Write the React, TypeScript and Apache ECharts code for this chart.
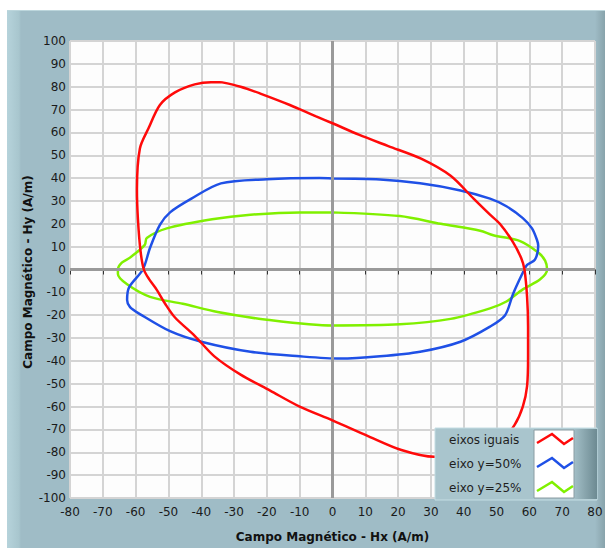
import React, { useEffect, useRef } from "react";
import * as echarts from "echarts";

const seriesNames = ["eixos iguais", "eixo y=50%", "eixo y=25%"];
const seriesColors = ["#ff0a0a", "#1f50e6", "#80f000"];

const xTicks = { min: -80, max: 80, interval: 10 };
const yTicks = { min: -100, max: 100, interval: 10 };

const eixosIguais: number[][] = [
  [-34, 82], [-28, 80], [-22, 77], [-13, 72], [-5, 67], [0, 64], [8, 59], [17, 54],
  [27, 48.5], [36, 41], [43, 31], [48, 24], [51, 20], [55, 12], [57.5, 5], [58.5, 0],
  [59.3, -12], [59.6, -25], [59.6, -38], [59.3, -51], [58, -60], [55.5, -68], [51, -76],
  [44, -80], [38, -82], [31, -82], [21, -79], [11, -73], [0, -66], [-10, -60], [-19, -53],
  [-28, -46], [-36, -38], [-42, -29], [-48, -21], [-51, -15], [-53.5, -9], [-56, -4],
  [-57.5, 0], [-58.5, 8], [-59.3, 22], [-59.6, 35], [-58.7, 53], [-56, 62], [-52.6, 72],
  [-48, 77.5], [-42, 81], [-37, 82], [-34, 82],
];

const eixoY50: number[][] = [
  [0, 39.8], [14.5, 39.4], [26.7, 37.7], [39, 34.6], [48, 31], [53, 27.7], [58, 22.5],
  [60.8, 18], [62.3, 13], [62.7, 10.4], [61.7, 4.3], [59.3, 2], [57.8, -2], [55, -10.8],
  [52.6, -20], [48, -25], [39, -31.6], [26.7, -36], [14.5, -38], [2.3, -39], [-10, -38],
  [-25, -36], [-40, -31.6], [-49.5, -27], [-58.7, -19.5], [-61.7, -16.5], [-62.6, -13.4],
  [-62, -7.8], [-57.8, 0], [-55.6, 9.5], [-52.6, 19.5], [-49.5, 25], [-43, 31],
  [-34, 37.7], [-20, 39.5], [-4, 40], [0, 39.8],
];

const eixoY25: number[][] = [
  [0, 25], [20.5, 23.4], [33, 20], [45, 17], [49, 15], [57, 12.5], [62.7, 7.4], [64.8, 3.9],
  [65.4, 0], [63.3, -4.3], [58, -8.7], [53, -14], [48, -17], [36, -21.6], [20.5, -24],
  [0, -24.5], [-20, -22], [-35, -18.6], [-45.6, -15], [-55.6, -12], [-62.6, -6.5],
  [-65.4, -2], [-65.4, 0], [-64.2, 3], [-61.7, 5.2], [-57.2, 10.8], [-56.6, 13.8],
  [-50.5, 18], [-36.7, 22], [-25, 24], [-10, 25], [0, 25],
];

const allSeries = [eixosIguais, eixoY50, eixoY25];

const xName = "Campo Magnético - Hx (A/m)";
const yName = "Campo Magnético - Hy (A/m)";

export default function App() {
  const ref = useRef<HTMLDivElement>(null);
  useEffect(() => {
    if (!ref.current) return;
    const chart = echarts.init(ref.current, null, { renderer: "svg" });
    const font = "DejaVu Sans";
    const legendX = 435, legendY = 428, rowH = 24;
    const legendEls: any[] = [
      {
        type: "text",
        x: 28,
        y: 272,
        rotation: Math.PI / 2,
        style: {
          text: yName,
          font: `bold 12px "${font}"`,
          fill: "#111",
          align: "center",
          verticalAlign: "middle",
        },
        z: 50,
      },
      {
        type: "rect",
        shape: { x: legendX, y: legendY, width: 162, height: 72 },
        style: { fill: "#a9c5cd", stroke: "#c4dde3", lineWidth: 1 },
        z: 100,
      },
      {
        type: "rect",
        shape: { x: 574, y: legendY + 1, width: 23, height: 70 },
        style: {
          fill: new echarts.graphic.LinearGradient(0, 0, 1, 0, [
            { offset: 0, color: "#a3bfc7" },
            { offset: 1, color: "#6d8a92" },
          ]),
        },
        z: 101,
      },
      {
        type: "rect",
        shape: { x: 534, y: 430, width: 40, height: 68 },
        style: { fill: "#ffffff", stroke: "#8a9ca2", lineWidth: 1 },
        z: 101,
      },
    ];
    seriesNames.forEach((n, i) => {
      const by = 434 + i * rowH;
      legendEls.push({
        type: "text",
        x: 449,
        y: by + 6,
        style: {
          text: n,
          font: `12px "${font}"`,
          fill: "#1e1e1e",
          verticalAlign: "middle",
        },
        z: 102,
      });
      legendEls.push({
        type: "polyline",
        shape: {
          points: [
            [537, by + 9],
            [552, by],
            [564, by + 10],
            [573, by + 4],
          ],
        },
        style: { stroke: seriesColors[i], lineWidth: 2.5, fill: "none" },
        z: 102,
      });
    });

    chart.setOption({
      animation: false,
      backgroundColor: "transparent",
      grid: {
        left: 70,
        right: 17,
        top: 41,
        bottom: 44,
        show: true,
        backgroundColor: "#fdfdfd",
        borderColor: "#8a8a8a",
        borderWidth: 1,
      },
      xAxis: {
        type: "value",
        min: xTicks.min,
        max: xTicks.max,
        interval: xTicks.interval,
        name: xName,
        nameLocation: "middle",
        nameGap: 33,
        nameTextStyle: { fontFamily: font, fontWeight: "bold", fontSize: 12, color: "#111" },
        axisLine: { show: false },
        axisTick: { show: true, length: 5, lineStyle: { color: "#333", width: 1 } },
        axisLabel: { fontFamily: font, fontSize: 12, color: "#1a1a1a", margin: 8 },
        splitLine: { show: true, lineStyle: { color: "#d4d4d4", width: 2 } },
      },
      yAxis: {
        type: "value",
        min: yTicks.min,
        max: yTicks.max,
        interval: yTicks.interval,
        axisLine: { show: false },
        axisTick: { show: false },
        axisLabel: { fontFamily: font, fontSize: 12, color: "#1a1a1a", margin: 4 },
        splitLine: { show: true, lineStyle: { color: "#d4d4d4", width: 2 } },
      },
      graphic: legendEls,
      series: [
        {
          type: "line",
          data: [[0, 0]],
          showSymbol: false,
          symbol: "none",
          lineStyle: { opacity: 0 },
          z: 1,
          silent: true,
          markLine: {
            silent: true,
            symbol: ["none", "none"],
            label: { show: false },
            lineStyle: { color: "#9a9a9a", width: 3, type: "solid" },
            data: [{ xAxis: 0 }, { yAxis: 0 }],
          },
        },
        ...allSeries
          .map((d, i) => ({
            name: seriesNames[i],
            type: "line",
            data: d,
            showSymbol: false,
            symbol: "none",
            smooth: 0.3,
            lineStyle: { color: seriesColors[i], width: 2.5 },
            z: 3 + (2 - i),
          }))
          .reverse(),
      ],
    });
    return () => chart.dispose();
  }, []);

  return (
    <div style={{ position: "fixed", left: 0, top: 0, width: 612, height: 548, background: "#ffffff" }}>
      <div
        style={{
          position: "absolute",
          left: 7,
          top: 10,
          width: 598,
          height: 538,
          background:
            "linear-gradient(to right, #b6d3db 0px, #a8c6ce 12px, #9fbcc6 14px, #9fbcc6 588px, #88a3ab 598px)",
          borderTop: "1px solid #bcd6dc",
        }}
      />
      <div ref={ref} style={{ position: "absolute", left: 0, top: 0, width: 612, height: 548 }} />
    </div>
  );
}
